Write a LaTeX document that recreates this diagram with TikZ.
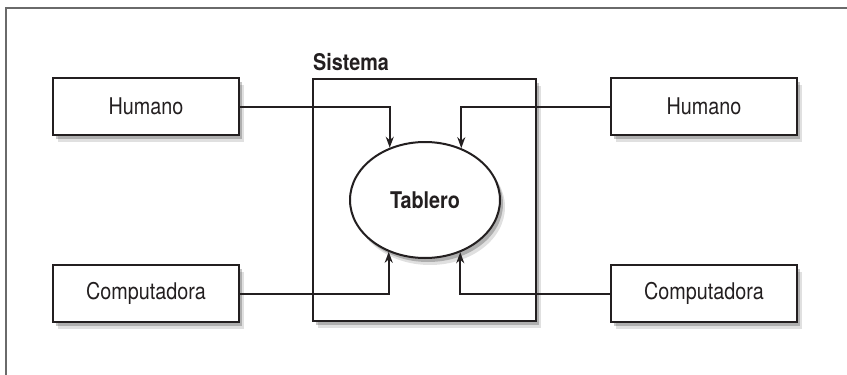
\documentclass[tikz,border=0pt]{standalone}
\usepackage{fontspec}
\setmainfont{TeX Gyre Heros}[FakeStretch=0.86]
\usetikzlibrary{arrows.meta}
\usetikzlibrary{shadows}
\usetikzlibrary{shapes.geometric}

\definecolor{ink}{HTML}{231F20}
\definecolor{framegray}{HTML}{6A6A6A}

\tikzset{
    soft shadow/.style={
        drop shadow={shadow xshift=3pt, shadow yshift=-4pt, fill=black, opacity=0.22},
        drop shadow={shadow xshift=5pt, shadow yshift=-7pt, fill=black, opacity=0.12}},
    agent/.style={draw=ink, line width=2.6pt, fill=white, minimum width=186pt,
        minimum height=57pt, inner sep=0pt, soft shadow},
    feed/.style={draw=ink, line width=2pt, -{Stealth[length=11pt, width=8pt]}}
}

\begin{document}
\begin{tikzpicture}[x=1pt, y=-1pt, font=\fontsize{23}{26}\selectfont, text=ink]
    \useasboundingbox (0,0) rectangle (847,375);
    \clip (0,0) rectangle (847,375);
    % outer frame, cut at the right and bottom
    \draw[framegray, line width=1.2pt] (6,380) -- (6,8) -- (860,8);

    % system boundary and blackboard
    \node[draw=ink, line width=2.6pt, fill=white, minimum width=223pt, minimum height=242pt,
        inner sep=0pt, soft shadow] (sis) at (424.5,200) {};
    \node[anchor=base west, inner sep=0pt, font=\fontsize{23}{26}\selectfont\bfseries]
        (sislbl) at (313,70.5) {Sistema};
    \node[ellipse, draw=ink, line width=2pt, fill=white, minimum width=150pt,
        minimum height=116pt, inner sep=0pt, soft shadow, font=\fontsize{23}{26}\selectfont\bfseries]
        (tab) at (425,200) {Tablero};

    % the four contributors
    \node[agent] (hl) at (146,106.5) {Humano};
    \node[agent] (cl) at (146,293.5) {Computadora};
    \node[agent] (hr) at (704,106.5) {Humano};
    \node[agent] (cr) at (704,293.5) {Computadora};

    % everybody writes to the blackboard
    \draw[feed] (hl.east) -| (tab.124.3);
    \draw[feed] (hr.west) -| (tab.55.7);
    \draw[feed] (cl.east) -| (tab.235.7);
    \draw[feed] (cr.west) -| (tab.304.3);
\end{tikzpicture}
\end{document}
